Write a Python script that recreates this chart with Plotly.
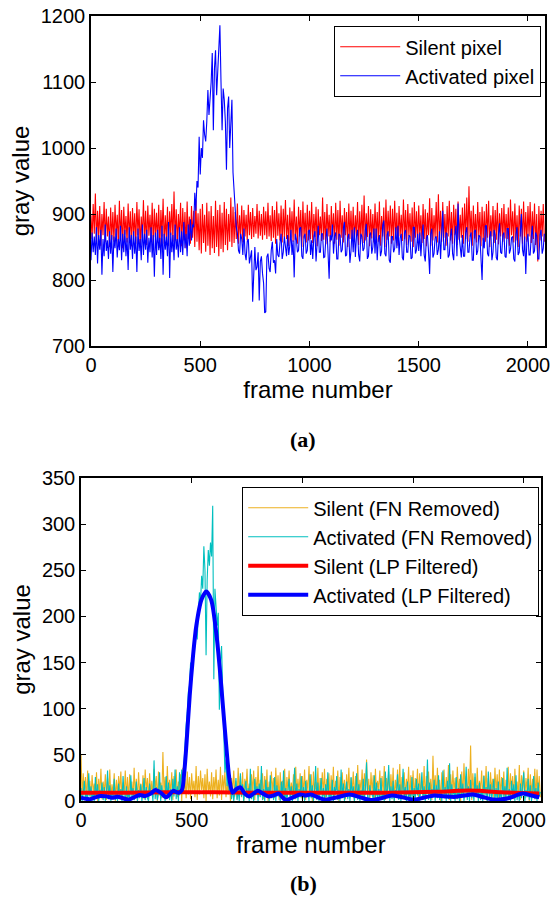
import plotly.graph_objects as go

FRAME_STEP = 5  # frames between stored samples

# ---------------- (a) raw gray values ----------------
silent_raw = [
    898, 862, 915, 870, 931, 856, 905, 864, 912, 852, 900, 868, 918, 858, 908, 866, 896, 850, 910, 861,
    903, 858, 914, 867, 899, 853, 920, 862, 906, 848, 911, 869, 897, 857, 916, 863, 904, 851, 909, 866,
    901, 855, 918, 868, 907, 850, 896, 864, 921, 859, 905, 853, 913, 867, 899, 860, 917, 852, 908, 865,
    902, 857, 914, 849, 906, 866, 923, 855, 898, 862, 911, 852, 904, 868, 915, 858, 934, 860, 907, 854,
    900, 866, 917, 851, 909, 860, 903, 848, 919, 862, 896, 855, 912, 864, 905, 850, 921, 858, 901, 845,
    908, 840, 915, 856, 899, 843, 917, 852, 904, 838, 912, 848, 897, 841, 920, 850, 906, 836, 914, 847,
    902, 842, 918, 853, 908, 845, 900, 858, 925, 850, 911, 856, 903, 862, 916, 855, 898, 864, 913, 857,
    906, 866, 899, 860, 914, 868, 903, 862, 909, 865, 897, 870, 915, 863, 905, 867, 900, 861, 911, 868,
    904, 862, 917, 866, 898, 859, 912, 864, 906, 855, 919, 867, 901, 860, 913, 857, 908, 865, 921, 862,
    899, 852, 910, 864, 904, 858, 922, 861, 896, 855, 911, 866, 906, 850, 919, 863, 902, 857, 914, 860,
    905, 862, 918, 856, 900, 865, 911, 851, 907, 868, 896, 859, 925, 861, 903, 854, 915, 866, 899, 858,
    912, 866, 901, 855, 917, 861, 906, 852, 920, 864, 898, 857, 909, 868, 903, 850, 916, 862, 905, 859,
    911, 858, 898, 866, 918, 853, 904, 862, 914, 856, 928, 860, 901, 865, 912, 851, 907, 863, 900, 857,
    916, 864, 903, 858, 919, 852, 897, 866, 910, 850, 922, 861, 905, 866, 913, 855, 908, 860, 920, 863,
    902, 852, 912, 866, 899, 859, 922, 862, 906, 853, 915, 867, 901, 858, 910, 850, 918, 864, 904, 856,
    913, 866, 898, 856, 915, 862, 907, 851, 902, 868, 924, 852, 909, 860, 898, 865, 918, 857, 930, 862,
    905, 858, 918, 864, 900, 852, 912, 866, 920, 860, 903, 855, 914, 868, 908, 853, 919, 861, 899, 864,
    910, 855, 916, 862, 925, 858, 942, 866, 905, 852, 913, 863, 900, 857, 918, 866, 903, 851, 911, 860,
    904, 858, 915, 864, 920, 850, 898, 866, 912, 856, 906, 861, 917, 854, 901, 866, 909, 858, 915, 863,
    900, 862, 910, 852, 922, 868, 904, 857, 916, 860, 898, 850, 913, 866, 908, 855, 919, 861, 903, 858,
    912, 866, 918, 856, 904, 862, 916, 853, 900, 828, 912, 860, 905, 866, 915, 858,
]

activated_raw = [
    830, 872, 842, 866, 838, 880, 825, 868, 846, 876, 808, 862, 836, 884, 844, 860, 832, 874, 840, 868,
    812, 866, 848, 878, 834, 862, 845, 882, 830, 870, 842, 876, 836, 864, 815, 880, 846, 868, 832, 874,
    840, 866, 812, 878, 844, 862, 830, 884, 838, 870, 846, 876, 826, 864, 842, 880, 834, 868, 805, 872,
    838, 876, 845, 864, 832, 882, 808, 870, 846, 866, 836, 888, 803, 872, 842, 868, 830, 884, 846, 862,
    834, 880, 842, 874, 838, 888, 848, 870, 836, 884, 852, 892, 860, 884, 880, 932, 905, 950, 940, 1017,
    960, 1000, 985, 1042, 1020, 1010, 1040, 1088, 1050, 1075, 1100, 1144, 1027, 1120, 1148, 1080, 1110, 1140, 1186, 1100,
    1027, 1090, 1073, 1040, 967, 1060, 1078, 1000, 1040, 1073, 963, 930, 901, 880, 871, 845, 840, 870, 862, 838,
    878, 840, 830, 858, 862, 825, 835, 845, 767, 830, 850, 815, 820, 842, 769, 828, 836, 810, 795, 750,
    752, 835, 840, 818, 812, 845, 858, 826, 830, 810, 862, 838, 835, 856, 870, 832, 842, 866, 848, 836,
    868, 838, 852, 876, 838, 860, 804, 870, 862, 842, 845, 878, 880, 836, 832, 866, 870, 840, 845, 874,
    876, 838, 860, 832, 866, 874, 828, 856, 882, 842, 842, 870, 870, 834, 835, 864, 878, 840, 802, 868,
    860, 884, 840, 866, 872, 832, 832, 870, 868, 842, 846, 878, 888, 836, 838, 864, 870, 826, 844, 876,
    842, 880, 835, 866, 876, 838, 828, 870, 866, 844, 848, 874, 885, 832, 836, 868, 872, 840, 850, 878,
    840, 878, 830, 862, 868, 836, 844, 882, 890, 840, 836, 868, 874, 830, 826, 866, 866, 842, 848, 880,
    848, 882, 838, 864, 870, 834, 830, 872, 876, 842, 842, 868, 866, 832, 834, 880, 880, 840, 846, 870,
    844, 872, 836, 866, 884, 838, 828, 864, 868, 842, 809, 870, 878, 834, 840, 864, 866, 838, 846, 874,
    832, 870, 905, 846, 846, 872, 870, 834, 838, 866, 878, 840, 830, 868, 882, 836, 916, 866, 846, 834,
    868, 836, 836, 872, 880, 842, 842, 866, 872, 830, 830, 874, 876, 838, 844, 868, 866, 836, 800, 864,
    848, 882, 882, 840, 836, 866, 874, 830, 842, 876, 868, 834, 830, 870, 886, 842, 840, 868, 872, 836,
    834, 878, 878, 840, 846, 864, 866, 832, 828, 870, 880, 838, 842, 872, 900, 846, 836, 866, 809, 860,
    870, 838, 838, 866, 882, 840, 844, 872, 866, 832, 832, 868, 876, 840, 848, 870,
]

# ---------------- (b) fluctuation-noise removed ----------------
silent_fn = [
    51, 2, 30, 8, 26, 1, 33, 6, 22, 3, 28, 10, 19, 4, 31, 0, 24, 7, 35, 2,
    21, 9, 29, 1, 25, 5, 34, 3, 18, 8, 30, 0, 23, 6, 27, 11, 32, 2, 20, 7,
    33, 4, 26, 1, 29, 9, 21, 3, 36, 6, 24, 0, 31, 8, 19, 5, 28, 2, 34, 10,
    25, 1, 30, 7, 22, 4, 35, 12, 27, 0, 32, 6, 20, 3, 53, 9, 26, 2, 38, 5,
    23, 8, 31, 1, 27, 11, 34, 4, 21, 6, 29, 0, 36, 9, 24, 3, 32, 7, 26, 2,
    30, 10, 22, 4, 38, 1, 27, 7, 33, 12, 25, 3, 29, 0, 35, 8, 21, 5, 31, 2,
    26, 9, 34, 3, 23, 6, 37, 1, 28, 11, 32, 4, 20, 7, 30, 0, 25, 10, 33, 5,
    22, 2, 36, 8, 27, 4, 31, 0, 24, 12, 35, 6, 19, 3, 29, 9, 33, 1, 26, 7,
    38, 5, 23, 10, 30, 2, 27, 8, 34, 0, 21, 6, 32, 11, 25, 3, 36, 7, 28, 1,
    31, 9, 22, 4, 35, 0, 26, 12, 33, 5, 20, 8, 29, 2, 37, 6, 24, 10, 30, 3,
    27, 7, 34, 1, 23, 11, 38, 4, 29, 0, 32, 8, 21, 5, 36, 2, 25, 9, 31, 6,
    35, 3, 24, 10, 30, 1, 28, 7, 37, 4, 22, 12, 33, 0, 26, 6, 31, 9, 23, 2,
    29, 8, 36, 3, 25, 11, 32, 0, 27, 6, 39, 4, 23, 10, 34, 1, 30, 7, 45, 5,
    24, 2, 31, 9, 28, 0, 35, 6, 22, 12, 33, 4, 27, 8, 38, 1, 25, 10, 32, 3,
    29, 7, 36, 0, 23, 11, 34, 5, 40, 2, 26, 9, 31, 4, 24, 12, 37, 1, 28, 6,
    33, 3, 25, 10, 35, 0, 30, 8, 22, 5, 38, 2, 27, 11, 32, 6, 24, 1, 49, 9,
    28, 4, 36, 7, 23, 0, 31, 12, 34, 3, 26, 9, 39, 1, 29, 6, 33, 10, 25, 2,
    37, 8, 24, 0, 32, 5, 41, 11, 27, 3, 35, 7, 60, 1, 30, 10, 26, 4, 36, 6,
    22, 12, 33, 2, 28, 8, 38, 0, 25, 6, 31, 11, 24, 3, 36, 9, 29, 1, 34, 5,
    26, 10, 32, 0, 23, 7, 37, 4, 30, 12, 27, 2, 35, 8, 21, 5, 39, 1, 28, 9,
    33, 3, 25, 11, 36, 0, 29, 6, 24, 10, 35, 2, 34, 7, 27, 4,
]

activated_fn = [
    14, 0, 8, 22, 2, 11, 0, 30, 5, 16, 1, 9, 0, 26, 3, 18, 0, 12, 6, 20,
    1, 15, 0, 9, 33, 2, 17, 0, 11, 4, 24, 1, 8, 0, 19, 3, 13, 0, 27, 5,
    0, 16, 2, 10, 0, 28, 4, 14, 1, 7, 21, 0, 12, 3, 18, 0, 9, 25, 1, 15,
    3, 0, 19, 6, 11, 0, 44, 2, 15, 1, 8, 31, 0, 17, 4, 12, 0, 27, 3, 20,
    1, 13, 0, 24, 5, 34, 2, 16, 0, 31, 10, 34, 18, 45, 60, 82, 96, 118, 125, 150,
    140, 157, 170, 185, 193, 175, 205, 226, 215, 244, 230, 276, 250, 158, 240, 272, 255, 280, 265, 320,
    132, 230, 211, 190, 204, 99, 150, 168, 120, 67, 31, 45, 16, 30, 8, 22, 2, 14, 0, 10,
    25, 1, 12, 0, 30, 5, 18, 0, 9, 22, 3, 14, 0, 35, 2, 11, 0, 24, 6, 16,
    0, 19, 4, 38, 1, 13, 0, 23, 7, 15, 0, 28, 3, 10, 1, 26, 0, 17, 5, 12,
    0, 21, 2, 33, 1, 14, 0, 9, 24, 3, 16, 0, 11, 36, 2, 19, 0, 13, 4, 27,
    1, 15, 0, 22, 6, 10, 0, 29, 3, 17, 0, 12, 38, 1, 20, 0, 8, 25, 2, 14,
    0, 18, 4, 31, 0, 11, 2, 23, 0, 15, 7, 27, 1, 12, 0, 34, 3, 19, 0, 9,
    21, 2, 13, 0, 26, 5, 16, 0, 10, 30, 1, 18, 0, 12, 4, 24, 0, 15, 42, 2,
    0, 17, 6, 11, 0, 28, 2, 20, 0, 13, 3, 25, 1, 9, 0, 32, 5, 14, 39, 0,
    16, 2, 22, 0, 12, 7, 29, 1, 18, 0, 10, 35, 3, 15, 0, 21, 4, 11, 0, 26,
    1, 14, 0, 24, 6, 19, 0, 12, 31, 2, 16, 0, 9, 45, 1, 20, 0, 13, 5, 23,
    0, 17, 3, 28, 1, 11, 0, 33, 4, 15, 0, 22, 2, 41, 0, 18, 6, 12, 0, 26,
    2, 14, 0, 29, 5, 19, 0, 10, 37, 1, 16, 0, 23, 3, 13, 0, 30, 4, 17, 0,
    20, 1, 11, 0, 27, 6, 15, 0, 32, 2, 18, 0, 12, 24, 1, 14, 0, 21, 3, 9,
    0, 25, 4, 16, 0, 36, 2, 13, 0, 22, 5, 18, 0, 28, 1, 11, 0, 19, 3, 15,
    31, 0, 12, 4, 24, 1, 17, 0, 9, 27, 2, 14, 0, 20, 5, 10,
]

# ---------------- (b) low-pass filtered ----------------
lp_act_frames = [0, 20, 40, 65, 90, 115, 140, 165, 190, 215, 240, 265, 290, 315,
                 336, 360, 384, 400, 416, 440, 456, 466, 476, 491, 506, 521, 544,
                 566, 588, 611, 626, 641, 656, 671, 685, 702, 719, 740, 759, 779,
                 799, 822, 846, 870, 894, 910, 926, 958, 990, 1014, 1038, 1070,
                 1101, 1157, 1213, 1261, 1309, 1356, 1404, 1452, 1500, 1547, 1595,
                 1643, 1691, 1731, 1771, 1819, 1867, 1930, 1994, 2035, 2070]
lp_act = [3.6, 2.5, 2, 4, 5.5, 5, 3.5, 4.5, 3, 1.5, 4, 6.5, 5.5, 8,
          12, 9, 4, 7, 11, 9, 12, 30, 60, 114, 157, 190, 218,
          227, 218, 182, 146, 103, 60, 23, 9, 13, 15, 8, 5, 8,
          11, 8, 5, 6, 8, 4, 1, 4, 7, 6, 7, 4,
          1.5, 4, 7, 4, 1, 3, 6, 4, 1.5, 3.5, 6,
          5, 4.5, 6, 7, 4, 1.5, 3, 8, 6, 4]

lp_sil_frames = [0, 200, 400, 600, 800, 1000, 1200, 1400, 1600, 1700, 1750, 1800, 1900, 2070]
lp_sil = [9, 9, 9.5, 9.5, 9, 9, 9, 9, 10, 11, 11.5, 11, 9.5, 8]


def frames_for(series):
    return list(range(0, len(series) * FRAME_STEP, FRAME_STEP))


X_RANGE = [0, 2078]
TICK_X = [0, 500, 1000, 1500, 2000]
TICK_YA = [700, 800, 900, 1000, 1100, 1200]
TICK_YB = [0, 50, 100, 150, 200, 250, 300, 350]

W, H = 553, 898
FONT = "Liberation Sans, Arial, sans-serif"
SERIF = "Liberation Serif, Times New Roman, serif"
RAW_W = 1.1

fig = go.Figure()
fig.add_trace(go.Scatter(x=frames_for(silent_raw), y=silent_raw, mode="lines", name="Silent pixel",
                         line=dict(color="#FF0000", width=RAW_W), xaxis="x", yaxis="y", legend="legend"))
fig.add_trace(go.Scatter(x=frames_for(activated_raw), y=activated_raw, mode="lines", name="Activated pixel",
                         line=dict(color="#0000FF", width=RAW_W), xaxis="x", yaxis="y", legend="legend"))
fig.add_trace(go.Scatter(x=frames_for(silent_fn), y=silent_fn, mode="lines", name="Silent (FN Removed)",
                         line=dict(color="#EDB120", width=RAW_W), xaxis="x2", yaxis="y2", legend="legend2"))
fig.add_trace(go.Scatter(x=frames_for(activated_fn), y=activated_fn, mode="lines", name="Activated (FN Removed)",
                         line=dict(color="#00BFBF", width=RAW_W), xaxis="x2", yaxis="y2", legend="legend2"))
fig.add_trace(go.Scatter(x=lp_sil_frames, y=lp_sil, mode="lines", name="Silent (LP Filtered)",
                         line=dict(color="#FF0000", width=4, shape="spline"), xaxis="x2", yaxis="y2", legend="legend2"))
fig.add_trace(go.Scatter(x=lp_act_frames, y=lp_act, mode="lines", name="Activated (LP Filtered)",
                         line=dict(color="#0000FF", width=4, shape="spline", smoothing=0.8),
                         xaxis="x2", yaxis="y2", legend="legend2"))


def xax(domain, anchor):
    return dict(domain=domain, anchor=anchor, range=X_RANGE, tickvals=TICK_X,
                automargin=False,
                ticks="inside", ticklen=5, tickwidth=1, tickcolor="black",
                mirror="ticks", showline=True, linecolor="black", linewidth=1.5,
                showgrid=False, zeroline=False, tickfont=dict(size=20),
                title=dict(text="frame number", font=dict(size=24), standoff=4))


def yax(domain, anchor, rng, tv):
    return dict(domain=domain, anchor=anchor, range=rng, tickvals=tv,
                automargin=False,
                ticks="inside", ticklen=5, tickwidth=1, tickcolor="black",
                mirror="ticks", showline=True, linecolor="black", linewidth=1.5,
                showgrid=False, zeroline=False, tickfont=dict(size=20),
                title=dict(text="gray value", font=dict(size=24), standoff=4))


fig.update_layout(
    template="none",
    width=W, height=H, margin=dict(l=0, r=0, t=0, b=0, pad=0, autoexpand=False),
    paper_bgcolor="white", plot_bgcolor="white",
    font=dict(family=FONT, size=20, color="black"),
    showlegend=True,
    xaxis=xax([91 / W, 545 / W], "y"),
    yaxis=yax([1 - 346 / H, 1 - 16 / H], "x", [700, 1200], TICK_YA),
    xaxis2=xax([81 / W, 541 / W], "y2"),
    yaxis2=yax([1 - 801 / H, 1 - 478 / H], "x2", [0, 350], TICK_YB),
    legend=dict(x=541 / W, y=1 - 26 / H, xref="paper", yref="paper",
                xanchor="right", yanchor="top", bgcolor="white",
                bordercolor="black", borderwidth=1.2, font=dict(size=20),
                itemwidth=60, tracegroupgap=0),
    legend2=dict(x=539 / W, y=1 - 487 / H, xref="paper", yref="paper",
                 xanchor="right", yanchor="top", bgcolor="white",
                 bordercolor="black", borderwidth=1.2, font=dict(size=20),
                 itemwidth=60, tracegroupgap=0),
    annotations=[
        dict(text="<b>(a)</b>", x=303 / W, y=1 - 440 / H, xref="paper", yref="paper",
             xanchor="center", yanchor="middle", showarrow=False,
             font=dict(family=SERIF, size=22)),
        dict(text="<b>(b)</b>", x=303 / W, y=1 - 883 / H, xref="paper", yref="paper",
             xanchor="center", yanchor="middle", showarrow=False,
             font=dict(family=SERIF, size=22)),
    ],
)

fig.write_html(
    "out.html",
    config={"displayModeBar": False},
    post_script="document.body.style.margin='0';document.body.style.padding='0';"
                "document.body.style.overflow='hidden';"
                "document.documentElement.style.overflow='hidden';",
)
